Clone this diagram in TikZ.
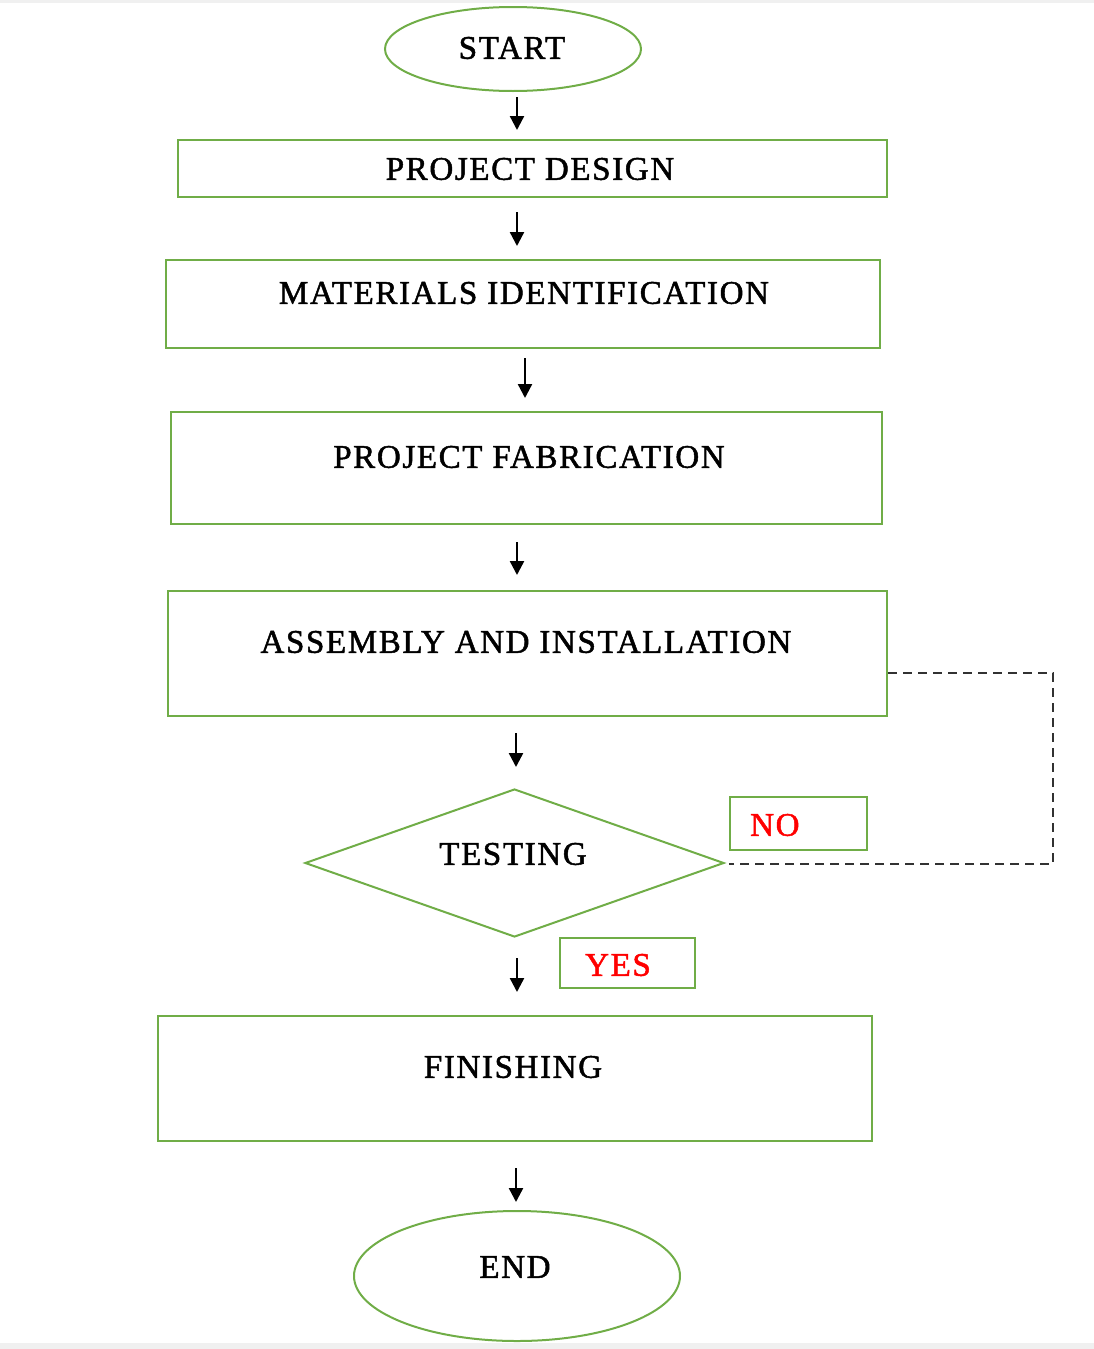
\documentclass[tikz,border=0pt]{standalone}
\usepackage{fontspec}
\setmainfont{Liberation Serif}[LetterSpace=5,FakeBold=1.5]
\usetikzlibrary{shapes.geometric,arrows.meta,calc}
\definecolor{boxgreen}{RGB}{112,173,71}
\definecolor{dashgray}{RGB}{50,50,50}
\begin{document}
\begin{tikzpicture}[x=1pt,y=-1pt,
  box/.style={draw=boxgreen,line width=2pt,rectangle,inner sep=0pt},
  oval/.style={draw=boxgreen,line width=2pt,ellipse,inner sep=0pt},
  dia/.style={draw=boxgreen,line width=2pt,diamond,inner sep=0pt},
  lbl/.style={font=\fontsize{33}{36}\selectfont,text=black,inner sep=0pt},
  redlbl/.style={font=\fontsize{33}{36}\selectfont,text=red,inner sep=0pt},
  arr/.style={line width=2.4pt,-{Triangle[length=14pt,width=14pt]}},
  loop/.style={draw=dashgray,line width=2.2pt,dash pattern=on 9pt off 6pt}]
\useasboundingbox (0,0) rectangle (1094,1349);
\fill[gray!12] (0,0) rectangle (1094,3);
\fill[gray!12] (0,1343) rectangle (1094,1349);
% shapes
\node[oval,minimum width=256pt,minimum height=84pt] (start) at (513,49) {};
\node[box,minimum width=709pt,minimum height=57pt] (pd) at (532.5,168.5) {};
\node[box,minimum width=714pt,minimum height=88pt] (mi) at (523,304) {};
\node[box,minimum width=711pt,minimum height=112pt] (pf) at (526.5,468) {};
\node[box,minimum width=719pt,minimum height=125pt] (asm) at (527.5,653.5) {};
\node[dia,minimum width=419pt,minimum height=148pt] (test) at (514.5,863) {};
\node[box,minimum width=137pt,minimum height=53pt] (no) at (798.5,823.5) {};
\node[box,minimum width=135pt,minimum height=50pt] (yes) at (627.5,963) {};
\node[box,minimum width=714pt,minimum height=125pt] (fin) at (515,1078.5) {};
\node[oval,minimum width=326pt,minimum height=130pt] (end) at (517,1276) {};
% texts
\node[lbl] (tstart) at (512,48) {START};
\node[lbl] (tpd) at (530,169) {PROJECT DESIGN};
\node[lbl] (tmi) at (524,293) {MATERIALS IDENTIFICATION};
\node[lbl] (tpf) at (529,457) {PROJECT FABRICATION};
\node[lbl] (tasm) at (526,642) {ASSEMBLY AND INSTALLATION};
\node[lbl] (ttest) at (513,854) {TESTING};
\node[redlbl,anchor=west] (tno) at (750,825) {NO};
\node[redlbl,anchor=west] (tyes) at (585,965) {YES};
\node[lbl] (tfin) at (513,1067) {FINISHING};
\node[lbl] (tend) at (515,1267) {END};
% arrow end points
\coordinate (a1s) at (517,97);   \coordinate (a1e) at (517,130);
\coordinate (a2s) at (517,212);  \coordinate (a2e) at (517,246);
\coordinate (a3s) at (525,358);  \coordinate (a3e) at (525,398);
\coordinate (a4s) at (517,542);  \coordinate (a4e) at (517,575);
\coordinate (a5s) at (516,733);  \coordinate (a5e) at (516,767);
\coordinate (a6s) at (517,958);  \coordinate (a6e) at (517,992);
\coordinate (a7s) at (516,1168); \coordinate (a7e) at (516,1202);
\foreach \i in {1,...,7} {\draw[arr] (a\i s) -- (a\i e);}
% dashed loop
\coordinate (corner) at (1053,864);
\draw[loop] ($(asm.east)+(0,19.5)$) -| (corner) -- ($(test.east)+(4,1)$);
\end{tikzpicture}
\end{document}
